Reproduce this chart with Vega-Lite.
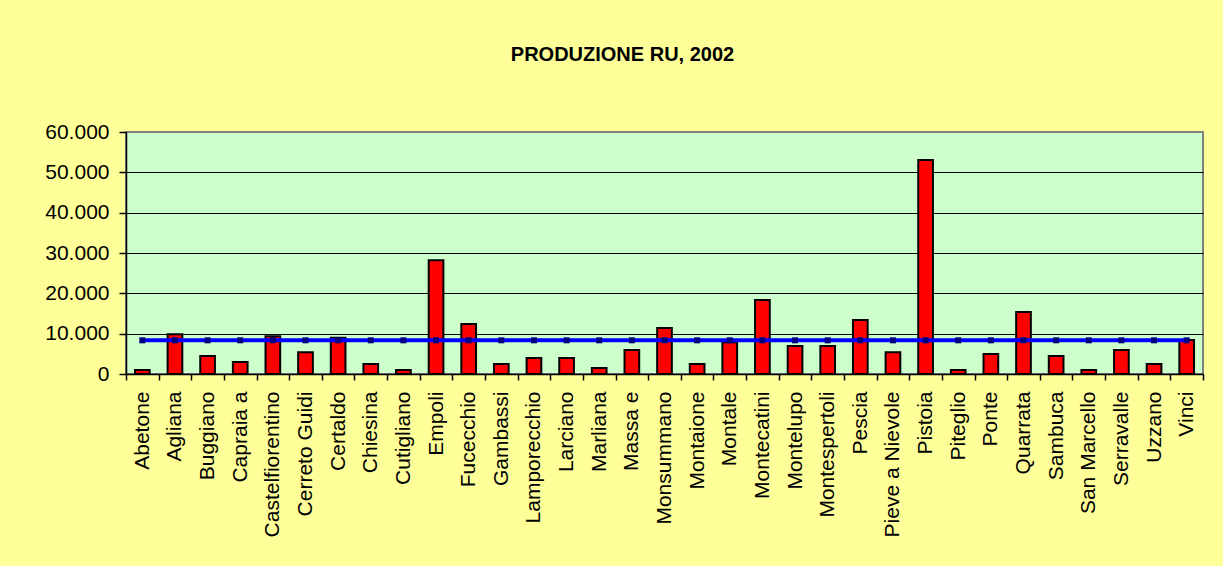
{
  "$schema": "https://vega.github.io/schema/vega-lite/v6.json",
  "width": 1077,
  "height": 242,
  "autosize": {"type": "none"},
  "padding": {"left": 126, "top": 132, "right": 20, "bottom": 192},
  "background": "#FFFF99",
  "config": {
    "locale": {"number": {"decimal": ",", "thousands": ".", "grouping": [3], "currency": ["€", ""]}},
    "view": {"fill": "#CCFFCC", "stroke": "#808080", "strokeWidth": 2},
    "font": "Liberation Sans",
    "axisY": {
      "title": null, "values": [0, 10000, 20000, 30000, 40000, 50000, 60000], "format": ",d",
      "labelFontSize": 21, "labelColor": "#000000", "tickSize": 7, "tickColor": "#000000", "tickWidth": 1.5,
      "labelPadding": 10, "domainColor": "#000000", "domainWidth": 1.5,
      "grid": true, "gridWidth": 1.2, "gridOpacity": 1
    }
  },
  "title": {"text": "PRODUZIONE RU, 2002", "fontSize": 20, "fontWeight": "bold", "font": "Liberation Sans", "color": "#000000", "anchor": "middle", "dx": -42, "offset": 56},
  "data": {"values": [
    {"comune": "Abetone", "ru": 1000, "media": 8350},
    {"comune": "Agliana", "ru": 9850, "media": 8350},
    {"comune": "Buggiano", "ru": 4470, "media": 8350},
    {"comune": "Capraia a", "ru": 2980, "media": 8350},
    {"comune": "Castelfiorentino", "ru": 9350, "media": 8350},
    {"comune": "Cerreto Guidi", "ru": 5380, "media": 8350},
    {"comune": "Certaldo", "ru": 9010, "media": 8350},
    {"comune": "Chiesina", "ru": 2480, "media": 8350},
    {"comune": "Cutigliano", "ru": 990, "media": 8350},
    {"comune": "Empoli", "ru": 28210, "media": 8350},
    {"comune": "Fucecchio", "ru": 12400, "media": 8350},
    {"comune": "Gambassi", "ru": 2480, "media": 8350},
    {"comune": "Lamporecchio", "ru": 3970, "media": 8350},
    {"comune": "Larciano", "ru": 3970, "media": 8350},
    {"comune": "Marliana", "ru": 1490, "media": 8350},
    {"comune": "Massa e", "ru": 5950, "media": 8350},
    {"comune": "Monsummano", "ru": 11410, "media": 8350},
    {"comune": "Montaione", "ru": 2480, "media": 8350},
    {"comune": "Montale", "ru": 7860, "media": 8350},
    {"comune": "Montecatini", "ru": 18360, "media": 8350},
    {"comune": "Montelupo", "ru": 6950, "media": 8350},
    {"comune": "Montespertoli", "ru": 6950, "media": 8350},
    {"comune": "Pescia", "ru": 13400, "media": 8350},
    {"comune": "Pieve a Nievole", "ru": 5400, "media": 8350},
    {"comune": "Pistoia", "ru": 53030, "media": 8350},
    {"comune": "Piteglio", "ru": 990, "media": 8350},
    {"comune": "Ponte", "ru": 4960, "media": 8350},
    {"comune": "Quarrata", "ru": 15380, "media": 8350},
    {"comune": "Sambuca", "ru": 4470, "media": 8350},
    {"comune": "San Marcello", "ru": 990, "media": 8350},
    {"comune": "Serravalle", "ru": 5950, "media": 8350},
    {"comune": "Uzzano", "ru": 2480, "media": 8350},
    {"comune": "Vinci", "ru": 8440, "media": 8350}
  ]},
  "encoding": {
    "x": {
      "field": "comune", "type": "nominal", "sort": null,
      "scale": {"paddingInner": 0, "paddingOuter": 0},
      "axis": {
        "title": null, "labelAngle": -90, "labelFontSize": 21, "labelColor": "#000000",
        "tickBand": "extent", "tickColor": "#000000", "tickSize": 6, "tickWidth": 1.5,
        "domainColor": "#000000", "domainWidth": 1.5, "labelPadding": 11, "labelLimit": 300
      }
    }
  },
  "layer": [
    {
      "mark": {"type": "bar", "color": "#FF0000", "stroke": "#000000", "strokeWidth": 2, "width": {"band": 0.45}},
      "encoding": {
        "y": {
          "field": "ru", "type": "quantitative", "scale": {"domain": [0, 60000], "nice": false}, "title": null,
          "axis": {"gridColor": {"condition": {"test": "datum.value === 60000", "value": "#808080"}, "value": "#000000"}}
        }
      }
    },
    {
      "mark": {"type": "line", "color": "#0000FF", "strokeWidth": 4},
      "encoding": {"y": {"field": "media", "type": "quantitative", "title": null}}
    },
    {
      "mark": {"type": "point", "shape": "square", "filled": true, "color": "#000080", "size": 36, "opacity": 1},
      "encoding": {"y": {"field": "media", "type": "quantitative", "title": null}}
    }
  ]
}
